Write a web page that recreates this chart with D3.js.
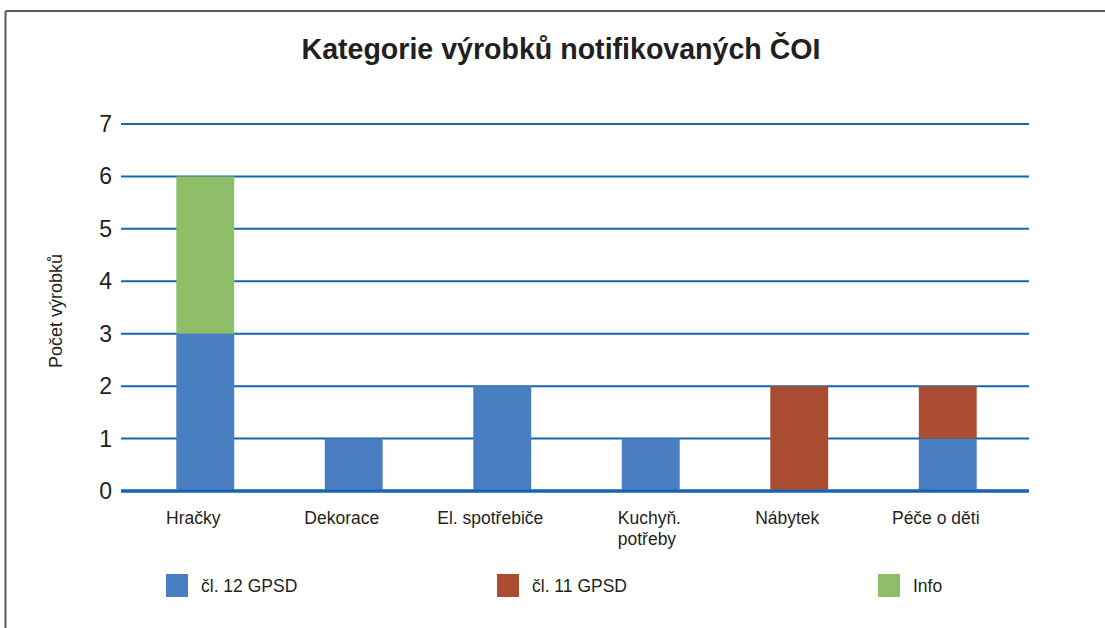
<!DOCTYPE html>
<html>
<head>
<meta charset="utf-8">
<script src="https://cdn.jsdelivr.net/npm/d3@7/dist/d3.min.js"></script>
<style>
  html, body { margin: 0; padding: 0; background: #fff; }
  svg { display: block; font-family: "Liberation Sans", Arial, Helvetica, sans-serif; }
</style>
</head>
<body>
<svg id="chart" width="1105" height="628"></svg>
<script>
const title = "Kategorie výrobků notifikovaných ČOI";
const yAxisTitle = "Počet výrobků";
const categories = ["Hračky", "Dekorace", "El. spotřebiče", "Kuchyň. potřeby", "Nábytek", "Péče o děti"];
const seriesNames = ["čl. 12 GPSD", "čl. 11 GPSD", "Info"];
const cl12 = [3, 1, 2, 1, 0, 1];
const cl11 = [0, 0, 0, 0, 2, 1];
const info = [3, 0, 0, 0, 0, 0];
const yTicks = [0, 1, 2, 3, 4, 5, 6, 7];
const colors = ["#4A7EC2", "#A94C32", "#8FBE69"];

const svg = d3.select("#chart");
const W = 1105, H = 628;

// frame (top and left borders)
svg.append("line").attr("x1", 5.5).attr("x2", W).attr("y1", 11).attr("y2", 11)
  .attr("stroke", "#5a5a5a").attr("stroke-width", 2);
svg.append("line").attr("x1", 5.5).attr("x2", 5.5).attr("y1", 11).attr("y2", H)
  .attr("stroke", "#5a5a5a").attr("stroke-width", 2);

// title
svg.append("text").attr("x", 561).attr("y", 59).attr("text-anchor", "middle")
  .attr("font-size", 29).attr("font-weight", "bold").attr("fill", "#231f20")
  .attr("textLength", 519).attr("lengthAdjust", "spacingAndGlyphs")
  .text(title);

const plotLeft = 121, plotRight = 1029;
const y = d3.scaleLinear().domain([0, 7]).range([491, 124]);
const x = d3.scaleBand().domain(categories).range([131, 1022]).paddingInner(0.61).paddingOuter(0.305);

// gridlines
svg.append("g").selectAll("line").data(yTicks).join("line")
  .attr("x1", plotLeft).attr("x2", plotRight)
  .attr("y1", d => y(d)).attr("y2", d => y(d))
  .attr("stroke", "#1565B2").attr("stroke-width", d => d === 0 ? 3 : 2);

// y tick labels
svg.append("g").selectAll("text").data(yTicks).join("text")
  .attr("x", 112).attr("y", d => y(d)).attr("dy", "0.35em")
  .attr("text-anchor", "end").attr("font-size", 23).attr("fill", "#231f20")
  .text(d => d);

// y axis title
svg.append("text").attr("transform", "translate(62,311) rotate(-90)")
  .attr("text-anchor", "middle").attr("font-size", 18).attr("fill", "#231f20")
  .text(yAxisTitle);

// stacked bars
const rows = categories.map((c, i) => ({ cat: c, s0: cl12[i], s1: cl11[i], s2: info[i] }));
const stack = d3.stack().keys(["s0", "s1", "s2"]);
const layers = stack(rows);
svg.append("g").selectAll("g").data(layers).join("g")
  .attr("fill", (d, i) => colors[i])
  .selectAll("rect").data(d => d.filter(p => p[1] > p[0])).join("rect")
  .attr("x", d => x(d.data.cat))
  .attr("width", x.bandwidth())
  .attr("y", d => y(d[1]))
  .attr("height", d => y(d[0]) - y(d[1]));

// redraw baseline on top
svg.append("line").attr("x1", plotLeft).attr("x2", plotRight)
  .attr("y1", y(0)).attr("y2", y(0)).attr("stroke", "#1565B2").attr("stroke-width", 3);

// category labels
const catG = svg.append("g");
categories.forEach(c => {
  const words = c === "Kuchyň. potřeby" ? ["Kuchyň.", "potřeby"] : [c];
  const t = catG.append("text").attr("font-size", 17.5).attr("fill", "#231f20")
    .attr("text-anchor", words.length > 1 ? "start" : "middle");
  const cx = x(c) + x.bandwidth() / 2;
  words.forEach((w, j) => {
    t.append("tspan").attr("x", words.length > 1 ? cx - 33 : cx - 12).attr("y", 524 + j * 21).text(w);
  });
});

// legend
const legendX = [166, 497, 878];
const lg = svg.append("g").selectAll("g").data(seriesNames).join("g")
  .attr("transform", (d, i) => `translate(${legendX[i]},574)`);
lg.append("rect").attr("width", 22).attr("height", 23).attr("fill", (d, i) => colors[i]);
lg.append("text").attr("x", 35).attr("y", 18).attr("font-size", 17.5).attr("fill", "#231f20").text(d => d);
</script>
</body>
</html>
